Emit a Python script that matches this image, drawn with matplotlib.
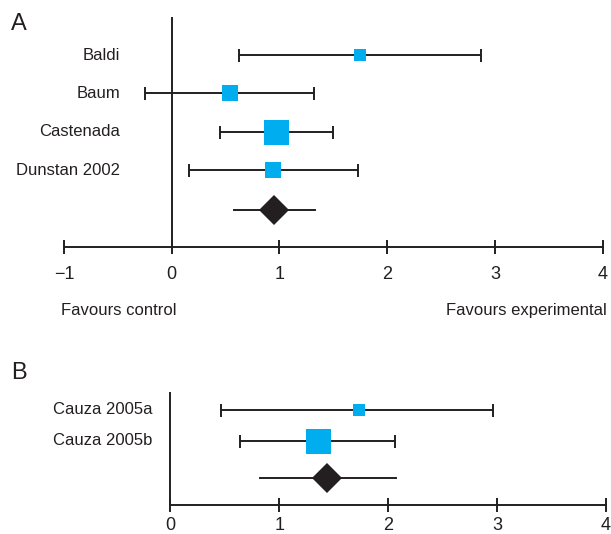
import matplotlib.pyplot as plt
import numpy as np

plt.rcParams['font.family'] = ['Liberation Sans', 'DejaVu Sans']

# panel A: studies vs pooled estimate
studies_a = ['Baldi', 'Baum', 'Castenada', 'Dunstan 2002']
est_a = [1.75, 0.54, 0.97, 0.94]
lo_a = [0.62, -0.25, 0.45, 0.16]
hi_a = [2.87, 1.32, 1.50, 1.73]
weight_a = [10.5, 19.6, 50.2, 19.6]
pooled_a = (0.95, 0.58, 1.33)  # estimate, lower, upper

# panel B
studies_b = ['Cauza 2005a', 'Cauza 2005b']
est_b = [1.73, 1.36]
lo_b = [0.47, 0.64]
hi_b = [2.96, 2.06]
weight_b = [16.8, 83.2]
pooled_b = (1.44, 0.82, 2.07)

ticks_a = [-1, 0, 1, 2, 3, 4]
ticks_b = [0, 1, 2, 3, 4]

INK = '#231f20'
BLUE = '#00aeef'
W, H = 611, 534


def px(v):
    # pixels -> points at dpi 100
    return v * 0.72


def forest(ax, names, est, lo, hi, weight, pooled, rows, pooled_row, label_dx):
    est = np.asarray(est)
    lo = np.asarray(lo)
    hi = np.asarray(hi)
    w = np.asarray(weight)
    ax.errorbar(est, rows, xerr=[est - lo, hi - est], fmt='none', ecolor=INK,
                elinewidth=1.4, capsize=px(6.5), capthick=1.4, zorder=2)
    sizes = 25 * np.sqrt(w / w.max())
    for x, y, s in zip(est, rows, sizes):
        ax.plot(x, y, marker='s', ms=px(s), color=BLUE, mew=0, zorder=3)
    p, plo, phi = pooled
    ax.plot([plo, phi], [pooled_row, pooled_row], color=INK, lw=1.4, zorder=2)
    ax.plot(p, pooled_row, marker='D', ms=px(21.2), color=INK, mew=0, zorder=3)
    for name, y in zip(names, rows):
        ax.annotate(name, xy=(0, y), xycoords=('axes fraction', 'data'),
                    xytext=(label_dx, 0), textcoords='offset points',
                    ha='right', va='center', fontsize=12, color=INK)
    ax.tick_params(axis='x', direction='inout', length=10, width=1.4,
                   colors=INK, labelsize=13)
    ax.set_yticks([])
    for s in ax.spines.values():
        s.set_visible(False)
    ax.spines['bottom'].set_visible(True)
    ax.spines['bottom'].set_linewidth(1.4)
    ax.spines['bottom'].set_color(INK)


fig = plt.figure(figsize=(W / 100, H / 100), dpi=100)

# panel A
axA = fig.add_axes([64 / W, 1 - 246.7 / H, 538.7 / W, 230 / H])
axA.patch.set_alpha(0)
forest(axA, studies_a, est_a, lo_a, hi_a, weight_a, pooled_a,
       rows=[5, 4, 3, 2], pooled_row=0.96, label_dx=px(56))
axA.set_xlim(-1, 4)
axA.set_ylim(0, 6)
axA.set_xticks(ticks_a)
axA.tick_params(axis='x', pad=9)
axA.axvline(0, color=INK, lw=1.4, zorder=1)

# panel B
axB = fig.add_axes([170.3 / W, 1 - 505 / H, 435.7 / W, 112 / H])
axB.patch.set_alpha(0)
forest(axB, studies_b, est_b, lo_b, hi_b, weight_b, pooled_b,
       rows=[3.06, 2.06], pooled_row=0.88, label_dx=px(-17.6))
axB.set_xlim(0, 4)
axB.set_ylim(0, 3.6)
axB.set_xticks(ticks_b)
axB.tick_params(axis='x', pad=3.5)
axB.spines['left'].set_visible(True)
axB.spines['left'].set_linewidth(1.4)
axB.spines['left'].set_color(INK)

fig.text(11 / W, 1 - 24 / H, 'A', fontsize=17, color=INK, va='center', ha='left')
fig.text(11 / W, 1 - 373 / H, 'B', fontsize=17, color=INK, va='center', ha='left')
fig.text(61 / W, 1 - 310.7 / H, 'Favours control', fontsize=12, color=INK,
         va='center', ha='left')
fig.text(606.7 / W, 1 - 310.7 / H, 'Favours experimental', fontsize=12, color=INK,
         va='center', ha='right')

fig.savefig('out.png', dpi=100)
